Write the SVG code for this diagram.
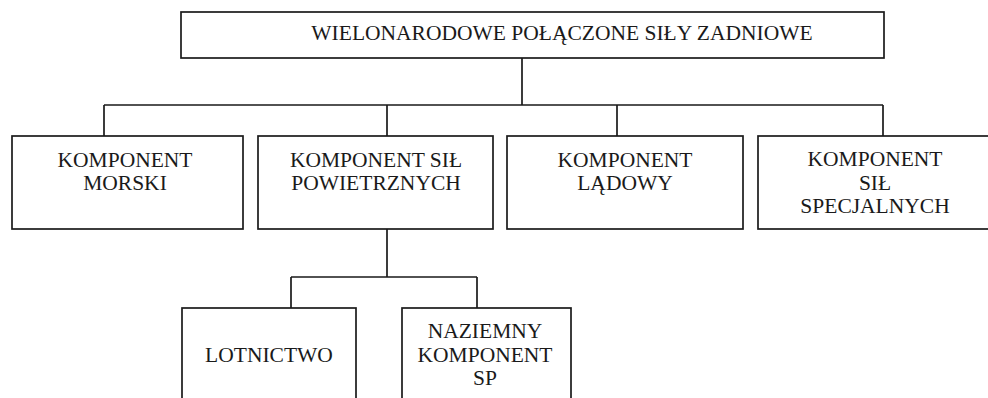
<svg xmlns="http://www.w3.org/2000/svg" width="988" height="398" viewBox="0 0 988 398">
<style>
.box{fill:none;stroke:#1a1a1a;stroke-width:1.7}
.conn{fill:none;stroke:#1a1a1a;stroke-width:1.7}
text{font-family:'Liberation Serif','Times New Roman',serif;font-size:21.5px;fill:#1a1a1a;text-anchor:middle}
</style>
<rect width="988" height="398" fill="#ffffff"/>
<g id="connectors">
<path class="conn" d="M522,58 V105 M104,105 H883 M104,105 V136 M387,105 V136 M617,105 V136 M883,105 V136"/>
<path class="conn" d="M387,229 V277 M291,277 H477 M291,277 V308 M477,277 V308"/>
</g>
<g id="root">
<rect class="box" x="181" y="12" width="703" height="46"/>
<text x="562" y="40">WIELONARODOWE POŁĄCZONE SIŁY ZADNIOWE</text>
</g>
<g id="morski">
<rect class="box" x="12" y="136" width="231" height="93"/>
<text x="125" y="167">KOMPONENT</text>
<text x="125" y="190">MORSKI</text>
</g>
<g id="powietrzne">
<rect class="box" x="258" y="136" width="235" height="93"/>
<text x="376" y="167">KOMPONENT SIŁ</text>
<text x="376" y="190">POWIETRZNYCH</text>
</g>
<g id="ladowy">
<rect class="box" x="507" y="136" width="236" height="93"/>
<text x="625" y="167">KOMPONENT</text>
<text x="625" y="190">LĄDOWY</text>
</g>
<g id="specjalne">
<rect class="box" x="758" y="136" width="260" height="93"/>
<text x="875" y="166">KOMPONENT</text>
<text x="875" y="190">SIŁ</text>
<text x="875" y="213">SPECJALNYCH</text>
</g>
<g id="lotnictwo">
<rect class="box" x="182" y="308" width="174" height="120"/>
<text x="269" y="362">LOTNICTWO</text>
</g>
<g id="naziemny">
<rect class="box" x="402" y="308" width="169" height="120"/>
<text x="485" y="338">NAZIEMNY</text>
<text x="485" y="362">KOMPONENT</text>
<text x="485" y="385">SP</text>
</g>
</svg>
